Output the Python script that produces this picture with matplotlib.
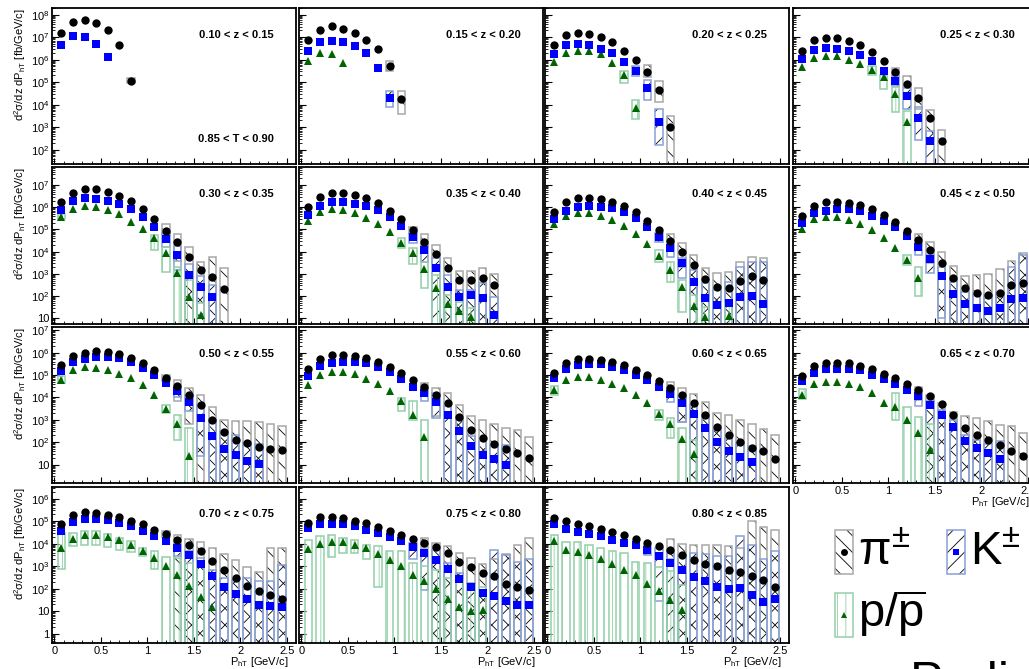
import numpy as np
import matplotlib
matplotlib.use("Agg")
import matplotlib.pyplot as plt
from matplotlib.patches import Rectangle
from matplotlib.ticker import FixedLocator, FuncFormatter, LogLocator, MultipleLocator, NullFormatter

plt.rcParams['font.family'] = ['Liberation Sans', 'DejaVu Sans']
plt.rcParams['mathtext.fontset'] = 'custom'
plt.rcParams['mathtext.rm'] = 'Liberation Sans'
plt.rcParams['mathtext.it'] = 'Liberation Sans:italic'
plt.rcParams['mathtext.bf'] = 'Liberation Sans:bold'
plt.rcParams['hatch.linewidth'] = 0.6

#---------------data----------------#

z_bins = ['0.10 < z < 0.15', '0.15 < z < 0.20', '0.20 < z < 0.25', '0.25 < z < 0.30',
          '0.30 < z < 0.35', '0.35 < z < 0.40', '0.40 < z < 0.45', '0.45 < z < 0.50',
          '0.50 < z < 0.55', '0.55 < z < 0.60', '0.60 < z < 0.65', '0.65 < z < 0.70',
          '0.70 < z < 0.75', '0.75 < z < 0.80', '0.80 < z < 0.85']
thrust_label = '0.85 < T < 0.90'

# P_hT bin centres [GeV/c]
pt_centers = [0.075, 0.2, 0.325, 0.45, 0.575, 0.7, 0.825, 0.95, 1.075, 1.2,
              1.325, 1.45, 1.575, 1.7, 1.825, 1.95, 2.075, 2.2, 2.325, 2.45]

# all values below are log10 of d2sigma/dz dPhT [fb/GeV/c]
# systematic boxes: {bin: (log10 top, log10 bottom)}, OFF = box runs out of the frame
OFF = -3.0

# pions
pi_val = [
    [7.19, 7.66, 7.75, 7.63, 7.33, 6.64, 5.07],
    [6.89, 7.33, 7.48, 7.38, 7.19, 6.89, 6.47, 5.70, 4.25],
    [6.65, 7.08, 7.21, 7.16, 7.01, 6.77, 6.41, 5.99, 5.47, 4.64, 3.02],
    [6.41, 6.86, 6.98, 6.98, 6.84, 6.65, 6.34, 5.93, 5.47, 4.92, 4.28, 3.42, 2.39],
    [6.22, 6.65, 6.82, 6.82, 6.70, 6.52, 6.28, 5.92, 5.45, 4.93, 4.42, 3.74, 3.17, 2.84, 2.30],
    [6.02, 6.47, 6.62, 6.62, 6.55, 6.40, 6.17, 5.84, 5.47, 4.97, 4.45, 3.89, 3.25, 2.72, 2.72, 2.80, 2.50],
    [5.80, 6.25, 6.40, 6.40, 6.35, 6.25, 6.05, 5.77, 5.39, 4.97, 4.48, 4.00, 3.40, 2.75, 2.42, 2.35, 2.69, 2.92, 2.72],
    [5.60, 6.07, 6.22, 6.22, 6.20, 6.10, 5.90, 5.65, 5.35, 4.93, 4.52, 4.07, 3.47, 2.83, 2.35, 2.15, 2.05, 2.15, 2.50, 2.60],
    [5.43, 5.85, 6.00, 6.07, 6.03, 5.93, 5.75, 5.52, 5.22, 4.88, 4.51, 4.09, 3.65, 3.01, 2.44, 2.11, 1.96, 1.78, 1.71, 1.64],
    [5.28, 5.70, 5.88, 5.90, 5.85, 5.75, 5.60, 5.37, 5.10, 4.80, 4.48, 4.13, 3.73, 3.13, 2.56, 2.19, 1.93, 1.71, 1.52, 1.29],
    [5.10, 5.52, 5.70, 5.70, 5.67, 5.60, 5.43, 5.22, 5.00, 4.73, 4.43, 4.09, 3.73, 3.23, 2.67, 2.31, 2.01, 1.74, 1.59, 1.26],
    [4.95, 5.40, 5.55, 5.55, 5.52, 5.40, 5.25, 5.06, 4.85, 4.58, 4.33, 4.06, 3.71, 3.23, 2.64, 2.31, 2.08, 1.86, 1.62, 1.37],
    [4.87, 5.26, 5.39, 5.36, 5.29, 5.17, 4.99, 4.87, 4.62, 4.43, 4.18, 3.96, 3.69, 3.24, 2.84, 2.47, 2.13, 1.88, 1.73, 1.56],
    [4.92, 5.19, 5.19, 5.14, 5.02, 4.92, 4.73, 4.58, 4.40, 4.22, 4.03, 3.84, 3.59, 3.21, 2.95, 2.70, 2.55, 2.22, 2.10, 1.96],
    [5.14, 5.02, 4.87, 4.77, 4.65, 4.52, 4.37, 4.22, 4.03, 3.88, 3.73, 3.48, 3.29, 3.11, 3.00, 2.84, 2.74, 2.55, 2.37, 2.10],
]
pi_sys = [
    {6: (5.20, 4.95)},
    {7: (5.96, 5.48), 8: (4.59, 3.60)},
    {8: (5.76, 5.21), 9: (5.04, 4.12), 10: (3.48, OFF)},
    {8: (5.63, 5.29), 9: (5.26, 4.79), 10: (4.74, 3.81), 11: (3.78, 2.44), 12: (2.86, OFF)},
    {9: (5.23, 4.75), 10: (4.78, 3.60), 11: (4.22, OFF), 12: (3.52, OFF), 13: (3.74, OFF), 14: (3.28, OFF)},
    {9: (5.10, 4.80), 10: (4.78, 4.15), 11: (4.30, 3.25), 12: (3.70, OFF), 13: (3.13, OFF), 14: (3.13, OFF),
     15: (3.25, OFF), 16: (3.00, OFF)},
    {10: (4.79, 4.10), 11: (4.40, 3.30), 12: (3.85, OFF), 13: (3.25, OFF), 14: (3.02, OFF), 15: (3.10, OFF),
     16: (3.55, OFF), 17: (3.77, OFF), 18: (3.70, OFF)},
    {10: (4.79, 4.30), 11: (4.45, 3.50), 12: (4.00, OFF), 13: (3.35, OFF), 14: (2.90, OFF), 15: (2.95, OFF),
     16: (3.00, OFF), 17: (3.20, OFF), 18: (3.59, OFF), 19: (3.92, OFF)},
    {9: (5.00, 4.75), 10: (4.76, 3.83), 11: (4.43, 2.79), 12: (4.10, OFF), 13: (3.56, OFF), 14: (3.01, OFF),
     15: (2.94, OFF), 16: (2.94, OFF), 17: (2.89, OFF), 18: (2.83, OFF), 19: (2.74, OFF)},
    {10: (4.65, 4.20), 11: (4.43, 3.16), 12: (4.18, OFF), 13: (3.64, OFF), 14: (3.19, OFF), 15: (2.98, OFF),
     16: (2.79, OFF), 17: (2.64, OFF), 18: (2.53, OFF), 19: (2.23, OFF)},
    {10: (4.70, 4.20), 11: (4.40, 2.90), 12: (4.16, OFF), 13: (3.79, OFF), 14: (3.31, OFF), 15: (3.20, OFF),
     16: (3.00, OFF), 17: (2.79, OFF), 18: (2.60, OFF), 19: (2.31, OFF)},
    {10: (4.48, 3.90), 11: (4.10, OFF), 12: (3.76, OFF), 13: (3.35, OFF), 14: (3.16, OFF), 15: (3.09, OFF),
     16: (2.94, OFF), 17: (2.76, OFF), 18: (2.71, OFF), 19: (2.41, OFF)},
    {9: (4.55, 4.30), 10: (4.40, OFF), 11: (4.22, OFF), 12: (4.07, OFF), 13: (3.81, OFF), 14: (3.56, OFF),
     15: (3.29, OFF), 16: (2.96, OFF), 17: (2.74, OFF), 18: (3.81, OFF), 19: (3.81, OFF)},
    {10: (4.25, 3.80), 11: (4.03, OFF), 12: (3.88, OFF), 13: (3.59, OFF), 14: (3.36, OFF), 15: (3.10, OFF),
     16: (3.33, OFF), 17: (3.56, OFF), 18: (3.93, OFF), 19: (4.25, OFF)},
    {10: (4.22, 3.30), 11: (3.99, OFF), 12: (3.96, OFF), 13: (3.96, OFF), 14: (3.93, OFF), 15: (3.88, OFF),
     16: (3.81, OFF), 17: (5.00, OFF), 18: (4.73, OFF), 19: (4.62, OFF)},
]

# kaons
ka_val = [
    [6.64, 7.04, 7.01, 6.70, 6.10],
    [6.41, 6.80, 6.84, 6.77, 6.62, 6.28, 5.64, 4.30],
    [6.27, 6.65, 6.71, 6.64, 6.49, 6.30, 5.92, 5.51, 4.74, 3.21],
    [6.04, 6.44, 6.52, 6.49, 6.37, 6.22, 5.94, 5.51, 5.07, 4.37, 3.42, 2.37],
    [5.87, 6.28, 6.41, 6.37, 6.28, 6.14, 5.92, 5.57, 5.12, 4.57, 3.85, 2.95, 2.42, 1.94],
    [5.65, 6.07, 6.22, 6.22, 6.16, 6.05, 5.87, 5.54, 5.15, 4.67, 4.07, 3.25, 2.42, 1.97, 2.05, 1.93, 1.14],
    [5.45, 5.84, 6.02, 6.07, 6.02, 5.98, 5.77, 5.50, 5.12, 4.67, 4.15, 3.50, 2.65, 1.89, 1.59, 1.67, 1.97, 2.00, 1.64],
    [5.27, 5.72, 5.84, 5.90, 5.90, 5.83, 5.62, 5.39, 5.09, 4.72, 4.22, 3.65, 2.90, 2.09, 1.64, 1.44, 1.32, 1.47, 1.85, 1.89],
    [5.18, 5.58, 5.73, 5.81, 5.82, 5.75, 5.60, 5.33, 5.00, 4.65, 4.28, 3.80, 3.09, 2.29, 1.71, 1.44, 1.17, 1.02],
    [4.95, 5.40, 5.55, 5.60, 5.60, 5.52, 5.37, 5.13, 4.83, 4.48, 4.21, 3.79, 3.23, 2.49, 1.81, 1.44, 1.25, 0.99],
    [4.85, 5.28, 5.45, 5.48, 5.48, 5.37, 5.22, 5.00, 4.76, 4.47, 4.16, 3.76, 3.26, 2.64, 2.01, 1.62, 1.32, 1.11],
    [4.73, 5.07, 5.25, 5.28, 5.28, 5.22, 5.00, 4.83, 4.58, 4.33, 4.06, 3.65, 3.23, 2.68, 2.06, 1.76, 1.52, 1.26],
    [4.58, 4.95, 5.10, 5.11, 5.07, 4.92, 4.77, 4.55, 4.33, 4.10, 3.81, 3.48, 3.10, 2.55, 2.07, 1.76, 1.56, 1.26, 1.24, 1.17],
    [4.70, 4.87, 4.89, 4.87, 4.77, 4.62, 4.47, 4.30, 4.10, 3.85, 3.59, 3.29, 2.87, 2.43, 2.10, 1.81, 1.66, 1.44, 1.29, 1.29],
    [4.87, 4.67, 4.50, 4.44, 4.33, 4.18, 4.03, 3.93, 3.70, 3.44, 3.14, 2.84, 2.52, 2.33, 2.07, 2.00, 2.03, 1.73, 1.39, 1.56],
]
ka_sys = [
    {},
    {7: (4.59, 3.90)},
    {7: (5.70, 5.26), 8: (5.11, 4.22), 9: (3.81, 2.22)},
    {8: (5.26, 4.84), 9: (4.74, 3.81), 10: (3.90, 2.41), 11: (2.81, OFF)},
    {9: (4.82, 4.22), 10: (4.25, 3.17), 11: (3.43, 1.82), 12: (2.90, OFF), 13: (2.50, OFF)},
    {9: (4.82, 4.37), 10: (4.30, 3.55), 11: (3.73, OFF), 12: (2.95, OFF), 13: (2.27, OFF), 14: (2.27, OFF),
     15: (2.57, OFF), 16: (1.97, OFF)},
    {9: (4.82, 4.45), 10: (4.30, 3.77), 11: (3.70, 2.80), 12: (3.17, OFF), 13: (2.57, OFF), 14: (2.27, OFF),
     15: (2.65, OFF), 16: (3.32, OFF), 17: (3.55, OFF), 18: (3.55, OFF)},
    {10: (4.37, 3.85), 11: (3.85, 3.02), 12: (3.32, 0.99), 13: (2.72, OFF), 14: (2.20, OFF), 15: (2.05, OFF),
     16: (2.05, OFF), 17: (2.20, OFF), 18: (3.32, OFF), 19: (3.85, OFF)},
    {10: (4.45, 4.00), 11: (4.10, 3.40), 12: (3.65, 1.37), 13: (3.00, OFF), 14: (2.50, OFF), 15: (2.30, OFF),
     16: (2.00, OFF), 17: (1.90, OFF)},
    {10: (4.36, 3.83), 11: (4.20, 3.08), 12: (3.60, OFF), 13: (3.08, OFF), 14: (2.26, OFF), 15: (2.04, OFF),
     16: (1.89, OFF), 17: (1.89, OFF)},
    {10: (4.36, 3.79), 11: (4.06, 2.89), 12: (3.68, OFF), 13: (3.16, OFF), 14: (2.56, OFF), 15: (2.19, OFF),
     16: (1.96, OFF), 17: (1.81, OFF)},
    {10: (4.28, 3.61), 11: (3.83, OFF), 12: (3.46, OFF), 13: (3.01, OFF), 14: (2.34, OFF), 15: (2.11, OFF),
     16: (1.92, OFF), 17: (2.06, OFF)},
    {10: (4.00, 3.44), 11: (3.67, OFF), 12: (3.36, OFF), 13: (2.84, OFF), 14: (2.47, OFF), 15: (2.40, OFF),
     16: (2.47, OFF), 17: (2.33, OFF), 18: (2.33, OFF), 19: (3.07, OFF)},
    {9: (4.03, 3.33), 10: (3.73, 1.96), 11: (3.73, OFF), 12: (3.14, OFF), 13: (2.70, OFF), 14: (2.25, OFF),
     15: (1.96, OFF), 16: (3.73, OFF), 17: (3.51, OFF), 18: (3.19, OFF), 19: (3.33, OFF)},
    {8: (3.90, 3.50), 9: (3.81, 1.44), 10: (3.66, OFF), 11: (3.50, OFF), 12: (3.60, OFF), 13: (3.54, OFF),
     14: (3.44, OFF), 15: (3.44, OFF), 16: (4.33, OFF), 17: (3.93, OFF), 18: (3.33, OFF), 19: (3.66, OFF)},
]

# protons
pr_val = [
    [],
    [5.96, 6.30, 6.27, 5.85],
    [5.90, 6.30, 6.41, 6.41, 6.27, 5.85, 5.32, 3.85],
    [5.68, 6.08, 6.18, 6.15, 6.00, 5.81, 5.56, 5.21, 4.48, 3.21],
    [5.57, 5.92, 6.05, 6.02, 5.87, 5.68, 5.35, 5.00, 4.60, 3.92, 3.02, 1.97, 1.14],
    [5.39, 5.80, 5.90, 5.87, 5.72, 5.53, 5.24, 4.87, 4.37, 3.92, 3.22, 2.38, 1.62, 1.34, 1.07],
    [5.24, 5.62, 5.75, 5.72, 5.60, 5.42, 5.15, 4.78, 4.34, 3.80, 3.17, 2.39, 1.55, 1.07, None, 1.10],
    [5.02, 5.45, 5.54, 5.54, 5.42, 5.24, 4.97, 4.63, 4.18, 3.62, 2.80],
    [4.80, 5.21, 5.36, 5.33, 5.22, 5.06, 4.88, 4.54, 4.10, 3.50, 2.79, 1.37],
    [4.54, 5.00, 5.13, 5.15, 5.06, 4.83, 4.62, 4.28, 3.86, 3.23, 2.23],
    [4.31, 4.76, 4.92, 4.92, 4.80, 4.62, 4.43, 4.13, 3.73, 3.28, 2.82, 2.14, 1.49],
    [4.13, 4.58, 4.70, 4.70, 4.61, 4.46, 4.21, 3.76, 3.56, 3.01, 2.41, 1.67],
    [3.81, 4.22, 4.40, 4.40, 4.30, 4.15, 3.96, 3.69, 3.36, 3.02, 2.62, 2.13, 1.63, 1.17],
    [3.78, 3.99, 4.07, 4.07, 3.96, 3.81, 3.54, 3.29, 2.99, 2.62, 2.33, 1.99, 1.56, 1.17, 1.00, 1.07],
    [4.10, 3.73, 3.61, 3.48, 3.33, 3.11, 2.84, 2.62, 2.21, 1.88, 1.48, 1.07],
]
pr_sys = [
    {},
    {},
    {6: (5.48, 4.96), 7: (4.22, 3.36)},
    {6: (5.70, 5.33), 7: (5.33, 4.70), 8: (4.79, 3.66), 9: (3.70, OFF)},
    {0: (5.70, 5.45), 8: (4.75, 4.07), 9: (4.22, 3.10), 10: (3.32, OFF), 11: (2.72, OFF), 12: (1.67, OFF)},
    {8: (4.60, 4.18), 9: (4.18, 3.43), 10: (3.55, 2.35), 11: (2.95, OFF), 12: (2.05, OFF), 13: (1.75, OFF),
     14: (1.45, OFF)},
    {9: (4.07, 3.55), 10: (3.55, 2.65), 11: (2.72, 1.29), 12: (2.04, OFF), 13: (1.52, OFF), 15: (1.67, OFF)},
    {9: (3.85, 3.40), 10: (3.32, 2.00)},
    {0: (4.95, 4.65), 9: (3.68, 3.31), 10: (3.23, 2.11), 11: (2.63, OFF)},
    {8: (3.98, 3.38), 9: (3.83, 3.00), 10: (3.00, OFF)},
    {0: (4.50, 4.13), 9: (3.46, 3.01), 10: (3.06, 2.19), 11: (2.64, OFF), 12: (2.11, OFF)},
    {0: (4.37, 3.91), 8: (4.18, 3.01), 9: (3.56, OFF), 10: (3.12, OFF), 11: (2.79, OFF)},
    {0: (4.47, 2.87), 1: (4.47, 3.88), 2: (4.55, 3.96), 3: (4.55, 3.96), 4: (4.45, 3.85), 5: (4.25, 3.70),
     6: (4.10, 3.65), 7: (3.81, 3.47), 8: (3.66, 2.87), 9: (3.41, OFF), 10: (3.36, OFF), 11: (3.14, OFF),
     12: (2.99, OFF)},
    {0: (4.18, OFF), 1: (4.33, OFF), 2: (4.37, 3.39), 3: (4.25, 3.59), 4: (4.18, 3.59), 5: (3.93, 3.33),
     6: (3.88, 2.10), 7: (3.66, OFF), 8: (3.66, OFF), 9: (3.14, OFF), 10: (2.99, OFF), 11: (2.84, OFF),
     12: (2.47, OFF), 13: (2.40, OFF), 14: (2.18, OFF), 15: (2.10, OFF)},
    {0: (4.40, OFF), 1: (4.07, OFF), 2: (4.07, OFF), 3: (3.93, OFF), 4: (3.81, OFF), 5: (3.66, OFF),
     6: (3.59, OFF), 7: (3.21, OFF), 8: (3.14, OFF), 9: (2.95, OFF), 10: (2.77, OFF), 11: (2.18, OFF)},
]

#---------------styles----------------#

species = [
    # values, boxes, marker, marker colour, box edge, hatch, hatch colour, marker size
    (pi_val, pi_sys, 'o', 'black', '#a8a8a8', '\\\\', 'black', 6.0),
    (ka_val, ka_sys, 's', '#0000ff', '#86a0d8', '//', 'black', 5.8),
    (pr_val, pr_sys, '^', '#006400', '#93cfa9', '||', '#93cfa9', 6.0),
]
box_w = 0.08

W, H = 1029, 669
col_left = [52, 299, 545, 793]
panel_w = 244
row_top = [8, 167, 327, 487]
row_bot = [164, 324, 483, 643]
row_ylim = [(23, 2.0e8), (5.5, 6.5e7), (1.5, 1.4e7), (0.39, 3.3e6)]
row_major = [range(2, 9), range(1, 8), range(1, 8), range(0, 7)]


def ylab(v, pos):
    e = int(round(np.log10(v)))
    if e == 0:
        return '1'
    if e == 1:
        return '10'
    return '$10^{%d}$' % e


fig = plt.figure(figsize=(W / 100, H / 100), dpi=100)

for k, zlab in enumerate(z_bins):
    r, c = divmod(k, 4)
    ax = fig.add_axes([col_left[c] / W, 1 - row_bot[r] / H, panel_w / W, (row_bot[r] - row_top[r]) / H])
    ax.set_yscale('log')
    ax.set_xlim(-0.025, 2.6)
    ax.set_ylim(*row_ylim[r])

    # systematic boxes
    for vals, syst, mk, mc, ec, hatch, hc, ms in species:
        for i, (top, bot) in syst[k].items():
            x0 = pt_centers[i] - box_w / 2
            lo, hi = 10 ** bot, 10 ** top
            ax.add_patch(Rectangle((x0, lo), box_w, hi - lo, facecolor='none', edgecolor=hc,
                                   lw=0, hatch=hatch, zorder=2))
            ax.add_patch(Rectangle((x0, lo), box_w, hi - lo, facecolor='none', edgecolor=ec,
                                   lw=1.1, zorder=2.1))

    # points (protons first, pions on top)
    for vals, syst, mk, mc, ec, hatch, hc, ms in species[::-1]:
        v = np.array(vals[k], dtype=float)
        if len(v) == 0:
            continue
        x = np.array(pt_centers[:len(v)])
        ax.plot(x, 10 ** v, ls='none', marker=mk, color=mc, ms=ms, mew=0, zorder=3)

    ax.text(0.91, 0.83, zlab, transform=ax.transAxes, ha='right', va='center',
            fontsize=8, fontweight='bold')
    if k == 0:
        ax.text(0.91, 0.16, thrust_label, transform=ax.transAxes, ha='right', va='center',
                fontsize=8, fontweight='bold')

    ax.yaxis.set_major_locator(FixedLocator([10.0 ** e for e in row_major[r]]))
    ax.yaxis.set_minor_locator(LogLocator(base=10, subs=np.arange(2, 10)))
    ax.yaxis.set_minor_formatter(NullFormatter())
    ax.xaxis.set_major_locator(MultipleLocator(0.5))
    ax.xaxis.set_minor_locator(MultipleLocator(0.1))
    ax.tick_params(which='both', direction='in', top=False, right=False, labelsize=8, pad=2)
    ax.tick_params(axis='y', which='major', length=5)
    ax.tick_params(axis='y', which='minor', length=2.5)
    ax.tick_params(axis='x', which='major', length=4)
    ax.tick_params(axis='x', which='minor', length=2)
    for s in ax.spines.values():
        s.set_linewidth(1.3)

    if c == 0:
        ax.yaxis.set_major_formatter(FuncFormatter(ylab))
        ax.set_ylabel('d$^{2}$σ/dz dP$_{\\rm hT}$ [fb/GeV/c]', fontsize=8, loc='top', labelpad=2)
    else:
        ax.yaxis.set_major_formatter(NullFormatter())

    if r == 3 or k == 11:
        ax.xaxis.set_major_formatter(FuncFormatter(lambda v, p: '%g' % v))
        ax.set_xlabel('P$_{\\rm hT}$ [GeV/c]', fontsize=8, loc='right')
        ax.xaxis.set_label_coords(0.967, -0.075)
    else:
        ax.xaxis.set_major_formatter(NullFormatter())

#---------------legend----------------#

lg = fig.add_axes([0, 0, 1, 1], zorder=5)
lg.set_xlim(0, W)
lg.set_ylim(H, 0)
lg.axis('off')

legend_items = [
    (0, 'π$^{±}$', 835, 530),
    (1, 'K$^{±}$', 947, 530),
    (2, '$\\mathrm{p}/\\overline{\\mathrm{p}}$', 835, 593),
]
for idx, txt, bx, by in legend_items:
    vals, syst, mk, mc, ec, hatch, hc, ms = species[idx]
    lg.add_patch(Rectangle((bx, by), 18, 44, facecolor='none', edgecolor=hc, lw=0, hatch=hatch))
    lg.add_patch(Rectangle((bx, by), 18, 44, facecolor='none', edgecolor=ec, lw=1.1))
    lg.plot([bx + 9], [by + 22], ls='none', marker=mk, color=mc, ms=5, mew=0)
    lg.text(bx + 23, by + 35, txt, fontsize=34, ha='left', va='baseline')

lg.text(910, 697, 'Preliminary', fontsize=36, ha='left', va='baseline')

plt.savefig('out.png', dpi=100)
